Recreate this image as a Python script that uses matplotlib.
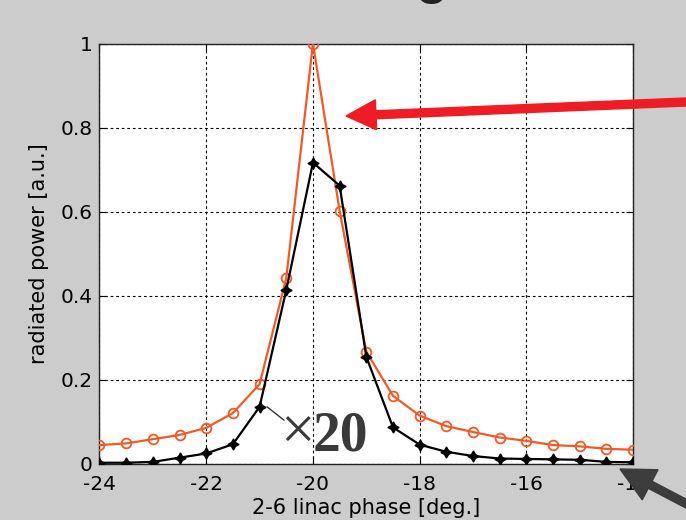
import numpy as np
import matplotlib
matplotlib.use('Agg')
import matplotlib.pyplot as plt
from matplotlib.patches import FancyArrow

# Data (phase in deg, normalised power)
phase = [-24, -23.5, -23, -22.5, -22, -21.5, -21, -20.5, -20, -19.5, -19,
         -18.5, -18, -17.5, -17, -16.5, -16, -15.5, -15, -14.5, -14]
power_orange = [0.045, 0.049, 0.059, 0.069, 0.086, 0.121, 0.190, 0.442, 1.000, 0.602, 0.267,
                0.162, 0.115, 0.090, 0.076, 0.063, 0.055, 0.045, 0.042, 0.036, 0.034]
power_black = [0.003, 0.003, 0.005, 0.015, 0.025, 0.047, 0.136, 0.414, 0.717, 0.662, 0.255,
               0.087, 0.046, 0.029, 0.019, 0.013, 0.012, 0.011, 0.010, 0.005, 0.004]
xticks = [-24, -22, -20, -18, -16, -14]
yticks = [0, 0.2, 0.4, 0.6, 0.8, 1]

bg = '#cccccc'
plt.rcParams['font.family'] = ['DejaVu Sans']

fig = plt.figure(figsize=(6.86, 5.2), dpi=100, facecolor=bg)
ax = fig.add_axes([0.145, 0.1077, 0.778, 0.8085])
ax.set_facecolor('white')

ax.plot(phase, power_orange, color='#f05a28', lw=1.6, marker='o', ms=7,
        mfc='none', mec='#f05a28', mew=1.3, zorder=3)
ax.plot(phase, power_black, color='black', lw=1.6, marker=(4, 1, 0), ms=8,
        mfc='black', mec='black', zorder=4)

ax.set_xlim(-24, -14)
ax.set_ylim(0, 1)
ax.set_xticks(xticks)
ax.set_yticks(yticks)
ax.set_xticklabels(['-24', '-22', '-20', '-18', '-16', '-14'])
ax.set_yticklabels(['0', '0.2', '0.4', '0.6', '0.8', '1'])
ax.tick_params(direction='in', length=5, top=True, right=True, labelsize=14.5,
               width=0.8)
ax.tick_params(axis='x', pad=8)
ax.tick_params(axis='y', pad=5)
ax.grid(True, color='black', ls=(0, (2.5, 2.5)), lw=0.8)
for s in ax.spines.values():
    s.set_linewidth(1.0)
    s.set_color('#222222')

ax.set_xlabel('2-6 linac phase [deg.]', fontsize=15, labelpad=3)
ax.set_ylabel('radiated power [a.u.]', fontsize=15, labelpad=8)

# x20 annotation
ax.annotate('', xy=(-20.9, 0.14), xytext=(-20.5, 0.1),
            arrowprops=dict(arrowstyle='-', color='#333333', lw=1.0))
ax.text(-20.3, 0.033, '\u00d7', fontsize=44, family='Liberation Serif',
        color='#3a3a3a', ha='center', va='baseline', zorder=5)
ax.text(-20.0, 0.031, '20', fontsize=40, family='Liberation Serif',
        fontweight='bold', color='#3a3a3a', ha='left', va='baseline', zorder=5)

# cut-off title letter at the top
fig.text(431 / 686, 1 + 9 / 520, 'g', fontsize=44, color='#222222',
         family='Liberation Sans', ha='center', va='baseline')

# arrows drawn in figure inches
red = FancyArrow(7.10, 4.19, 3.46 - 7.10, 4.04 - 4.19, width=0.08,
                 head_width=0.30, head_length=0.30, length_includes_head=True,
                 color='#ee1c24', transform=fig.dpi_scale_trans, zorder=10)
fig.add_artist(red)
grey = FancyArrow(7.25, -0.04, 6.20 - 7.25, 0.51 + 0.04, width=0.08,
                  head_width=0.34, head_length=0.34, length_includes_head=True,
                  color='#3c3c3c', transform=fig.dpi_scale_trans, zorder=10)
fig.add_artist(grey)

fig.savefig('out.png', dpi=100, facecolor=bg)
